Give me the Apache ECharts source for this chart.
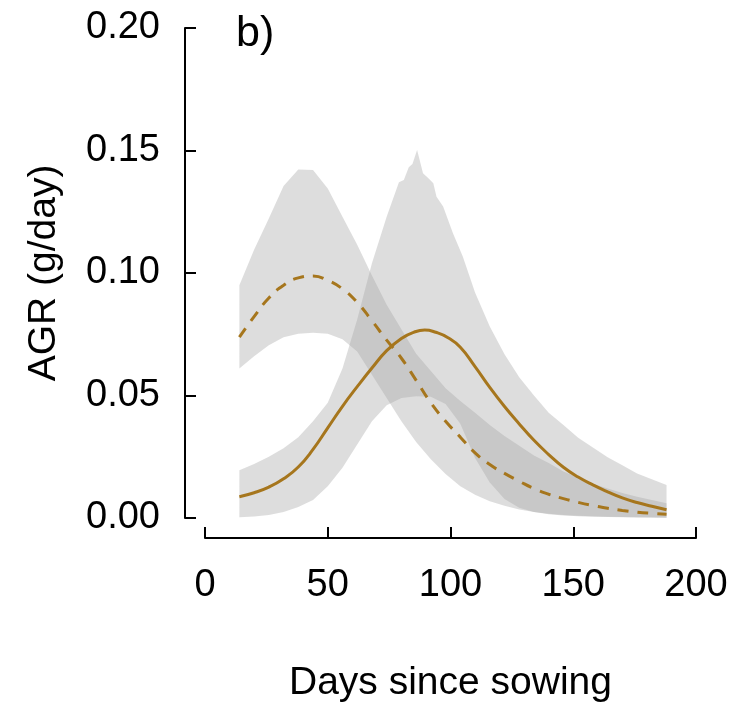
<!DOCTYPE html>
<html>
<head>
<meta charset="utf-8">
<script src="https://cdn.jsdelivr.net/npm/echarts@6/dist/echarts.min.js"></script>
<style>
html,body{margin:0;padding:0;background:#fff;}
#chart{width:747px;height:704px;}
</style>
</head>
<body>
<div id="chart"></div>
<script>
// Days for the early curve, its band, and the lower edge of the late band
const days = [14,20,26,32,38,44,50,56,62,68,74,80,86,92,98,104,110,116,122,128,134,140,146,152,158,164,170,176,182,188];
// Days for the late curve
const lateDays = [14,20,26,32,38,44,50,56,62,68,74,80,85,89.5,94,99,104,110,116,122,128,134,140,146,152,158,164,170,176,182,188];
// Days for the upper edge of the late band (denser near its jagged peak)
const lateUpperDays = [14,20,26,32,38,44,50,56,62,68,74,79,81,83,84.5,86.4,88.8,91,93,94.3,97,101,105,110,116,122,128,134,140,146,152,158,164,170,176,182,188];

// Early curve (dashed) and its band
const earlyMean  = [0.0738,0.0822,0.0898,0.0950,0.0980,0.0988,0.0970,0.0935,0.0880,0.0805,0.0726,0.0652,0.0562,0.0470,0.0395,0.0330,0.0266,0.0218,0.0182,0.0150,0.0120,0.0097,0.0079,0.0064,0.0051,0.0040,0.0031,0.0024,0.0019,0.0015];
const earlyUpper = [0.0950,0.1095,0.1222,0.1355,0.1422,0.1420,0.1345,0.1230,0.1115,0.0990,0.0870,0.0770,0.0670,0.0600,0.0530,0.0478,0.0430,0.0380,0.0335,0.0295,0.0255,0.0225,0.0190,0.0165,0.0140,0.0120,0.0102,0.0087,0.0073,0.0060];
const earlyLower = [0.0610,0.0660,0.0705,0.0738,0.0752,0.0756,0.0752,0.0730,0.0680,0.0585,0.0490,0.0395,0.0310,0.0240,0.0180,0.0130,0.0095,0.0068,0.0050,0.0035,0.0024,0.0015,0.0010,0.0007,0.0005,0.0004,0.0003,0.0002,0.0002,0.0001];

// Late curve (solid) and its band
const lateMean  = [0.0087,0.0103,0.0126,0.0160,0.0208,0.0280,0.0368,0.0456,0.0536,0.0612,0.0683,0.0733,0.0758,0.0767,0.0758,0.0736,0.0697,0.0618,0.0533,0.0455,0.0384,0.0317,0.0259,0.0207,0.0167,0.0135,0.0107,0.0082,0.0063,0.0048,0.0034];
const lateUpper = [0.0195,0.0220,0.0250,0.0285,0.0330,0.0395,0.0470,0.0610,0.0810,0.1040,0.1230,0.1370,0.1380,0.1432,0.1445,0.1502,0.1407,0.1387,0.1366,0.1311,0.1271,0.1162,0.1067,0.0920,0.0782,0.0668,0.0575,0.0500,0.0430,0.0380,0.0328,0.0288,0.0248,0.0215,0.0182,0.0158,0.0135];
const lateLower = [0.0003,0.0006,0.0012,0.0025,0.0045,0.0073,0.0130,0.0205,0.0300,0.0395,0.0460,0.0490,0.0497,0.0495,0.0465,0.0385,0.0245,0.0145,0.0078,0.0042,0.0025,0.0017,0.0012,0.0009,0.0007,0.0005,0.0004,0.0003,0.0002,0.0001];

const xTicks = [0,50,100,150,200];
const yTicks = [0,0.05,0.10,0.15,0.20];

const FONT = '"Liberation Sans", Arial, Helvetica, sans-serif';
const GOLD = '#A6761D';
const BAND = 'rgba(166,166,166,0.38)';

function pairs(xs, vals){ return xs.map((d,i)=>[d, vals[i]]); }

function bandSeries(name, upDays, up, loDays, lo){
  return {
    name: name+'_band', type:'custom', silent:true, z:1,
    data: upDays.map((d,i)=>[d, up[i]]).concat(loDays.map((d,i)=>[d, lo[i]])),
    encode:{x:0, y:1},
    renderItem: function(params, api){
      if (params.dataIndex !== 0) return null;
      const pts = [];
      for (let i=0;i<upDays.length;i++) pts.push(api.coord([upDays[i], up[i]]));
      for (let i=loDays.length-1;i>=0;i--) pts.push(api.coord([loDays[i], lo[i]]));
      return {type:'polygon', shape:{points:pts}, style:{fill:BAND, stroke:null}};
    }
  };
}

const chart = echarts.init(document.getElementById('chart'), null, {renderer:'canvas', width:747, height:704});
chart.setOption({
  animation:false,
  backgroundColor:'#ffffff',
  grid:{left:205, width:491, top:28, height:490, containLabel:false, outerBoundsMode:'none'},
  xAxis:{
    type:'value', min:0, max:200, interval:50, offset:20,
    name:'Days since sowing', nameLocation:'middle', nameGap:126,
    nameTextStyle:{fontSize:39, color:'#000', fontFamily:FONT},
    axisLine:{show:true, onZero:false, lineStyle:{color:'#000', width:2}},
    axisTick:{show:true, inside:true, length:11, lineStyle:{color:'#000', width:2}},
    axisLabel:{fontSize:38, color:'#000', fontFamily:FONT, margin:29,
      formatter:v=> xTicks.includes(v) ? String(v) : ''},
    splitLine:{show:false}
  },
  yAxis:{
    type:'value', min:0, max:0.2, interval:0.05, offset:20,
    name:'AGR (g/day)', nameLocation:'middle', nameGap:121, nameRotate:90,
    nameTextStyle:{fontSize:39, color:'#000', fontFamily:FONT},
    axisLine:{show:true, onZero:false, lineStyle:{color:'#000', width:2}},
    axisTick:{show:true, inside:true, length:11, lineStyle:{color:'#000', width:2}},
    axisLabel:{fontSize:38, color:'#000', fontFamily:FONT, margin:25,
      formatter:v=>{ const t = yTicks.find(k=>Math.abs(k-v)<1e-9); return t===undefined ? '' : t.toFixed(2); }},
    splitLine:{show:false}
  },
  graphic:[{type:'text', left:236, top:13, style:{text:'b)', font:'43px '+FONT, fill:'#000'}}],
  series:[
    bandSeries('early', days, earlyUpper, days, earlyLower),
    bandSeries('late', lateUpperDays, lateUpper, days, lateLower),
    { name:'early', type:'line', data:pairs(days, earlyMean), symbol:'none', smooth:0.5, z:5,
      lineStyle:{color:GOLD, width:3, type:[11,9]} },
    { name:'late', type:'line', data:pairs(lateDays, lateMean), symbol:'none', smooth:0.5, z:5,
      lineStyle:{color:GOLD, width:3} }
  ]
});
</script>
</body>
</html>
